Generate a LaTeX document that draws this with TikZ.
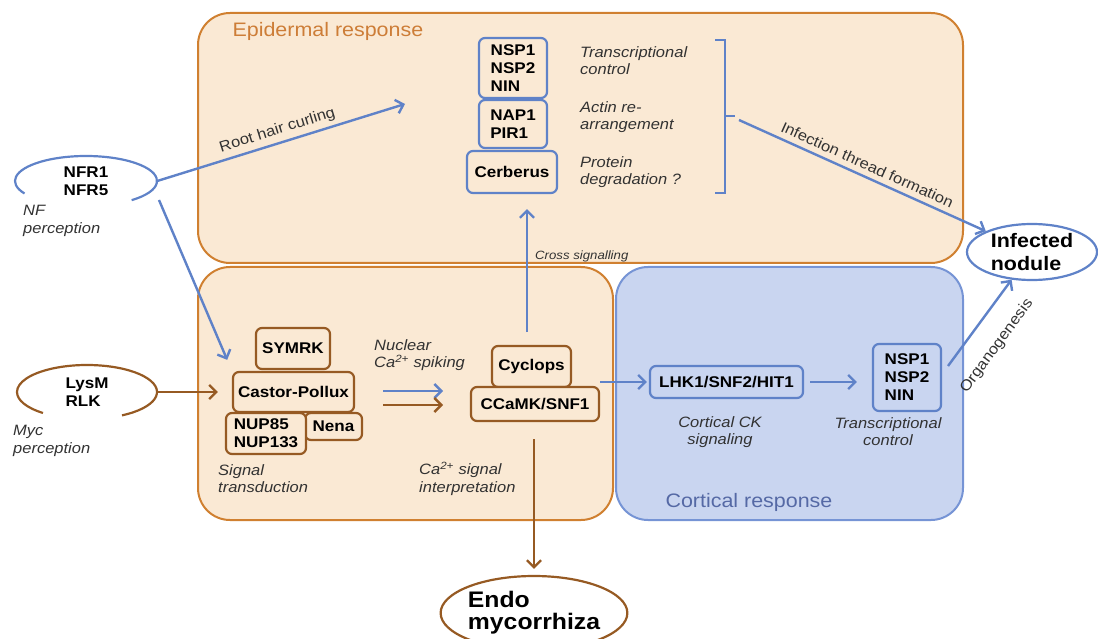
\documentclass[tikz,border=0pt]{standalone}
\usepackage{fontspec}
\setmainfont{Liberation Sans}[FakeStretch=1.1]
\usetikzlibrary{shapes.geometric,arrows.meta,positioning,calc}

\definecolor{peach}{RGB}{250,233,212}
\definecolor{orangeline}{RGB}{208,128,48}
\definecolor{brownline}{RGB}{150,90,35}
\definecolor{skyfill}{RGB}{201,213,240}
\definecolor{skyline}{RGB}{118,148,213}
\definecolor{arrowblue}{RGB}{95,130,200}
\definecolor{notegray}{RGB}{50,50,50}
\definecolor{cortcolor}{RGB}{85,105,165}
\definecolor{epicolor}{RGB}{205,125,55}

\tikzset{
  genebox/.style={rounded corners=6pt, line width=2.2pt, inner sep=0pt, align=left,
    font=\fontsize{15.5}{18}\selectfont\bfseries, text=black},
  epibox/.style={genebox, draw=arrowblue, fill=peach},
  sigbox/.style={genebox, draw=brownline, fill=peach},
  cortbox/.style={genebox, draw=arrowblue, fill=skyfill},
  notetext/.style={font=\fontsize{15}{17.5}\selectfont\itshape, text=notegray, inner sep=0pt, align=left},
  flowtext/.style={font=\fontsize{15}{18}\selectfont, text=notegray, sloped},
  regionbox/.style={line width=2pt, rounded corners=32pt},
  bluearrow/.style={draw=arrowblue, line width=2.4pt, -{Straight Barb[length=7pt,width=14pt]}},
  brownarrow/.style={draw=brownline, line width=2.4pt, -{Straight Barb[length=7pt,width=14pt]}},
  receptor/.style={ellipse, inner sep=0pt, align=left, font=\fontsize{15.5}{17.5}\selectfont\bfseries},
  outcome/.style={ellipse, line width=2.2pt, fill=white, inner sep=0pt, align=left}
}

\begin{document}
\begin{tikzpicture}[x=1pt, y=-1pt]
\useasboundingbox (0,0) rectangle (1098,639);

% Regions
\draw[regionbox, draw=orangeline, fill=peach] (198,13) rectangle (963,263);
\node[anchor=base west, text=epicolor, font=\fontsize{19.5}{22}\selectfont] (epilabel) at (229,37) {Epidermal response};
\draw[regionbox, draw=orangeline, fill=peach] (198,267) rectangle (613,520);
\draw[regionbox, draw=skyline, fill=skyfill] (616,267) rectangle (963,520);
\node[anchor=base west, text=cortcolor, font=\fontsize{19.5}{22}\selectfont] (cortlabel) at (662,507) {Cortical response};

% Perception - open ellipses
\node[receptor, minimum width=142, minimum height=50] (nfr) at (86,181) {NFR1\\NFR5};
\draw[draw=arrowblue, line width=2.2pt] ($(nfr.center)+(-50:71pt and 25pt)$) arc[start angle=-50, end angle=210, x radius=71pt, y radius=25pt];
\node[notetext, anchor=north west] (nfnote) at (23,205) {NF\\perception};

\node[receptor, minimum width=140, minimum height=54] (lysm) at (87,392) {LysM\\RLK};
\draw[draw=brownline, line width=2.2pt] ($(lysm.center)+(-60:70pt and 27pt)$) arc[start angle=-60, end angle=231, x radius=70pt, y radius=27pt];
\node[notetext, anchor=north west] (mycnote) at (13,425) {Myc\\perception};

% Outcomes
\node[outcome, draw=arrowblue, minimum width=130, minimum height=56, font=\fontsize{19.5}{23}\selectfont\bfseries] (nodule) at (1032,252) {Infected\\nodule};
\node[outcome, draw=brownline, minimum width=184, minimum height=74, font=\fontsize{22.5}{22}\selectfont\bfseries] (endo) at (534,613) {Endo\\mycorrhiza};

% Epidermal genes
\node[epibox, minimum width=68, minimum height=60] (enin) at (513,68) {NSP1\\NSP2\\NIN};
\node[epibox, minimum width=68, minimum height=48] (enap) at (513,124) {NAP1\\PIR1};
\node[epibox, minimum width=90, minimum height=42] (cerb) at (512,172) {Cerberus};
\node[notetext, anchor=north west] (etrans) at (580,46) {Transcriptional\\control};
\node[notetext, anchor=north west] (eactin) at (580,101) {Actin re-\\arrangement};
\node[notetext, anchor=north west] (eprot) at (580,156) {Protein\\degradation ?};
\draw[draw=arrowblue, line width=2.2pt] (715,40) -- (725,40) -- (725,193) -- (715,193);
\draw[draw=arrowblue, line width=2.2pt] (725,116) -- (735,116);
\coordinate (brk) at (739,120);

% Signal transduction genes
\node[sigbox, minimum width=74, minimum height=41] (symrk) at (293,348.5) {SYMRK};
\node[sigbox, minimum width=121, minimum height=40] (castor) at (293.5,392) {Castor-Pollux};
\node[sigbox, minimum width=57, minimum height=27] (nena) at (333.5,426.5) {Nena};
\node[sigbox, minimum width=80, minimum height=41] (nup) at (266,433.5) {NUP85\\NUP133};
\node[notetext, anchor=north west] (sigtrans) at (218,464) {Signal\\transduction};
\node[notetext, anchor=north west] (spiking) at (374,339) {Nuclear\\Ca\textsuperscript{2+} spiking};
\node[sigbox, minimum width=79, minimum height=41] (cyclops) at (531.5,366.5) {Cyclops};
\node[sigbox, minimum width=128, minimum height=34] (ccamk) at (535,404) {CCaMK/SNF1};
\node[notetext, anchor=north west] (interp) at (419,462) {Ca\textsuperscript{2+} signal\\interpretation};

% Cortical genes
\node[cortbox, minimum width=153, minimum height=32] (lhk) at (726.5,382) {LHK1/SNF2/HIT1};
\node[cortbox, minimum width=68, minimum height=67] (cnsp) at (907,377.5) {NSP1\\NSP2\\NIN};
\node[notetext, anchor=north, align=center] (cksig) at (720,416) {Cortical CK\\signaling};
\node[notetext, anchor=north, align=center] (ctrans) at (888,417) {Transcriptional\\control};

% Arrows
\coordinate (rhc) at (405,104);
\draw[bluearrow] (nfr.east) -- node[flowtext, above=1pt] (rhclabel) {Root hair curling} (rhc);
\coordinate (nfs) at (159,200);
\draw[bluearrow, shorten >=12pt] (nfs) -- (castor.north west);
\draw[brownarrow, shorten >=14pt] (lysm.east) -- (lysm.east -| castor.west);
\coordinate (spkb1) at (383,391);
\coordinate (spkb2) at (443,391);
\coordinate (spkr1) at (383,405);
\coordinate (spkr2) at (443,405);
\draw[bluearrow] (spkb1) -- (spkb2);
\draw[brownarrow] (spkr1) -- (spkr2);
\coordinate (xsig) at (527,332);
\draw[bluearrow, shorten >=15pt] (xsig) -- (xsig |- cerb.south);
\node[font=\fontsize{12}{14}\selectfont\itshape, text=notegray, anchor=base west, inner sep=0pt] (xlabel) at (535,260) {Cross signalling};
\draw[bluearrow, shorten >=2pt] (lhk.west -| ccamk.east) -- (lhk.west);
\draw[bluearrow, shorten <=6pt, shorten >=15pt] (lhk.east) -- (lhk.east -| cnsp.west);
\draw[bluearrow] (brk) -- node[flowtext, above=2pt] (itflabel) {Infection thread formation} (nodule);
\coordinate (orgs) at (948,366);
\draw[bluearrow] (orgs) -- node[flowtext, below=16pt, pos=0.42] (orglabel) {Organogenesis} (nodule);
\draw[brownarrow, shorten <=17pt, shorten >=6pt] (endo.north |- ccamk.south) -- (endo.north);
\end{tikzpicture}
\end{document}
